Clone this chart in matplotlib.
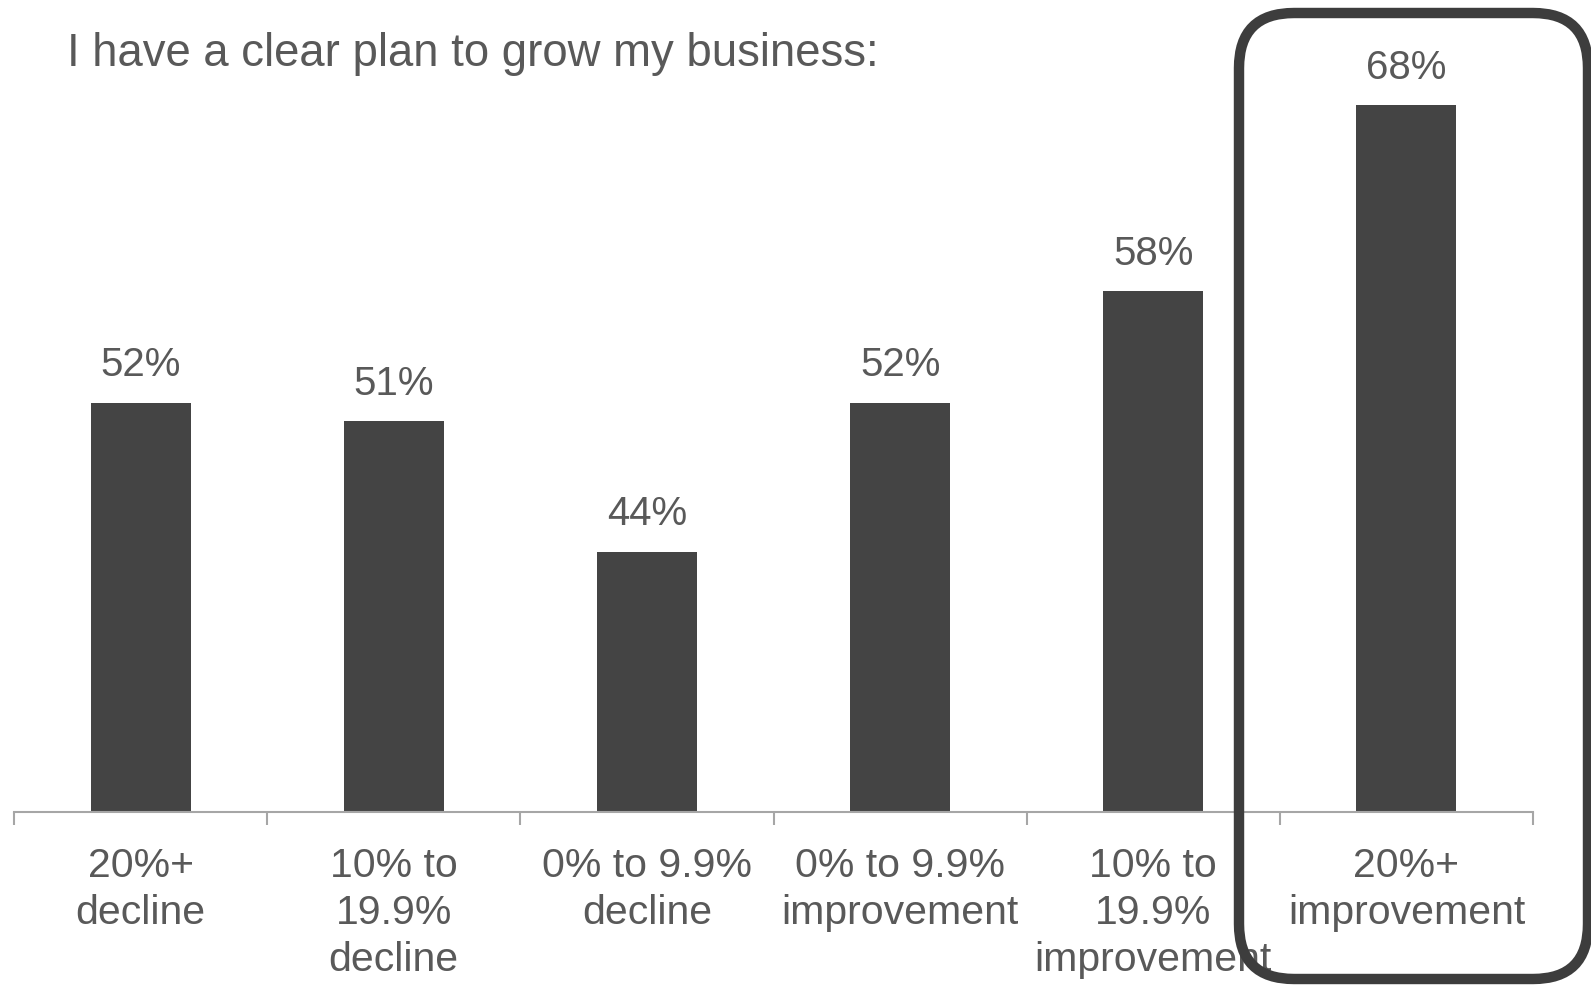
import numpy as np
import matplotlib.pyplot as plt
from matplotlib.patches import FancyBboxPatch
from matplotlib.transforms import IdentityTransform

plt.rcParams['font.family'] = ['Liberation Sans', 'DejaVu Sans']

kategorie = ["20%+\ndecline", "10% to\n19.9%\ndecline", "0% to 9.9%\ndecline",
             "0% to 9.9%\nimprovement", "10% to\n19.9%\nimprovement", "20%+\nimprovement"]
wartosci = [52, 51, 44, 52, 58, 68]
etykiety = ["52%", "51%", "44%", "52%", "58%", "68%"]

kolor_tekstu = '#595959'
kolor_slupka = '#444444'

fig = plt.figure(figsize=(15.91, 9.91), dpi=100)
ax = fig.add_axes([14/1591, 179/991, (1533-14)/1591, 744/991])

x = np.arange(len(kategorie))
dol = 30
ax.bar(x, np.array(wartosci) - dol, bottom=dol, width=0.395, color=kolor_slupka, zorder=2)

# wartosci nad slupkami
for xi, v, t in zip(x, wartosci, etykiety):
    ax.annotate(t, (xi, v), xytext=(0, 27), textcoords='offset points',
                ha='center', va='center', fontsize=29, color=kolor_tekstu)

ax.set_xlim(-0.5, len(kategorie) - 0.5)
ax.set_ylim(dol, dol + 40)

for s in ['top', 'right', 'left']:
    ax.spines[s].set_visible(False)
ax.spines['bottom'].set_color('#a6a6a6')
ax.spines['bottom'].set_linewidth(1.5)
ax.set_yticks([])

# podzialki na granicach kategorii, podpisy posrodku
ax.set_xticks(x)
ax.set_xticklabels(kategorie, fontsize=29.5, color=kolor_tekstu, linespacing=1.31)
ax.set_xticks(np.arange(len(kategorie) + 1) - 0.5, minor=True)
ax.tick_params(axis='x', which='major', length=0, pad=25)
ax.tick_params(axis='x', which='minor', length=9, width=1.5, color='#a6a6a6', direction='out')

fig.text(67/1591, 1 - 54/991, "I have a clear plan to grow my business:",
         ha='left', va='center', fontsize=32.8, color=kolor_tekstu)

# wyroznienie ostatniej kategorii
ramka = FancyBboxPatch((1239, 12), 349, 966, boxstyle="round,pad=0,rounding_size=55",
                       transform=IdentityTransform(), fill=False,
                       edgecolor='#3d3d3d', linewidth=7.5, zorder=10)
fig.add_artist(ramka)

fig.savefig('out.png', dpi=100)
